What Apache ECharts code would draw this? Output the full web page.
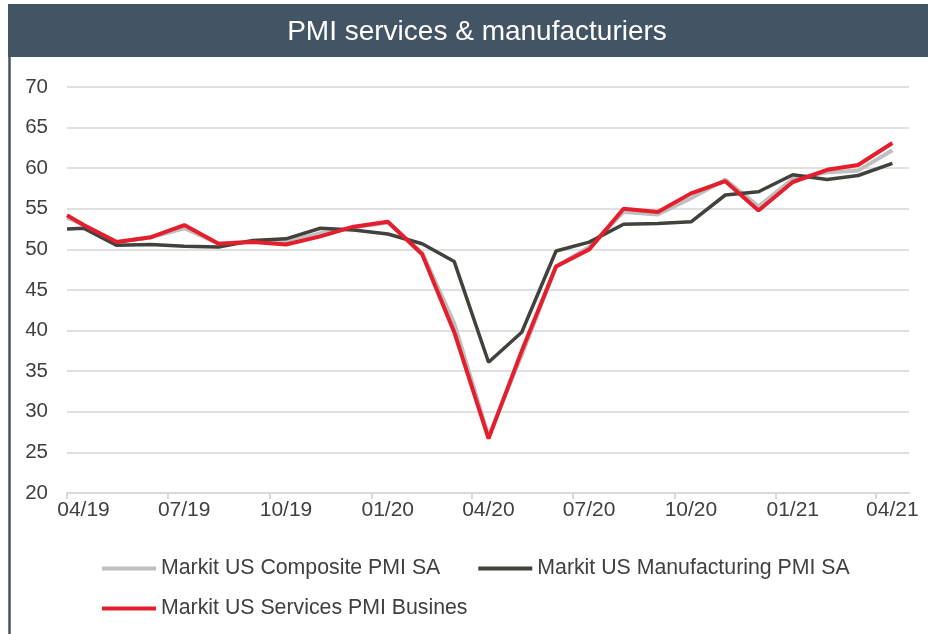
<!DOCTYPE html>
<html>
<head>
<meta charset="utf-8">
<script src="https://cdn.jsdelivr.net/npm/echarts@6/dist/echarts.min.js"></script>
<style>
html,body{margin:0;padding:0;background:#fff;}
#chart{width:928px;height:634px;}
</style>
</head>
<body>
<div id="chart"></div>
<script>
const titleText = 'PMI services & manufacturiers';
const dates = ['2019-04-01','2019-04-16','2019-05-16','2019-06-16','2019-07-16','2019-08-16','2019-09-16','2019-10-16','2019-11-16','2019-12-16',
  '2020-01-16','2020-02-16','2020-03-16','2020-04-16','2020-05-16','2020-06-16','2020-07-16','2020-08-16','2020-09-16','2020-10-16',
  '2020-11-16','2020-12-16','2021-01-16','2021-02-16','2021-03-16','2021-04-16'];
const compositeName = 'Markit US Composite PMI SA';
const manufacturingName = 'Markit US Manufacturing PMI SA';
const servicesName = 'Markit US Services PMI Busines';
const composite = [53.9,53.0,50.9,51.5,52.6,50.7,51.0,50.9,52.0,52.7,53.3,49.6,40.9,27.0,37.0,47.9,50.3,54.6,54.3,56.3,58.6,55.3,58.7,59.5,59.7,62.2];
const manufacturing = [52.5,52.6,50.5,50.6,50.4,50.3,51.1,51.3,52.6,52.4,51.9,50.7,48.5,36.1,39.8,49.8,50.9,53.1,53.2,53.4,56.7,57.1,59.2,58.6,59.1,60.6];
const services = [54.2,53.0,50.9,51.5,53.0,50.7,50.9,50.6,51.6,52.8,53.4,49.4,39.8,26.7,37.5,47.9,50.0,55.0,54.6,56.9,58.4,54.8,58.3,59.8,60.4,63.1];
const xMin = '2019-04-01';
const xMax = '2021-05-01';
const yMin = 20, yMax = 70, yStep = 5;

const FONT = "Arial, 'Liberation Sans', sans-serif";
const TXT = '#404040';
const DAY = 24 * 3600 * 1000;
function pair(vals){ return vals.map((v,i)=>[dates[i], v]); }
function fmt(val){
  const d = new Date(val);
  const m = String(d.getMonth()+1).padStart(2,'0');
  const y = String(d.getFullYear()).slice(2);
  return m + '/' + y;
}

const chart = echarts.init(document.getElementById('chart'), null, {renderer:'canvas'});
chart.setOption({
  backgroundColor:'#ffffff',
  animation:false,
  textStyle:{fontFamily:FONT},
  graphic:[
    {type:'rect', shape:{x:8, y:4, width:922, height:53}, style:{fill:'#435565'}, z:10},
    {type:'line', shape:{x1:9.5, y1:4, x2:9.5, y2:640}, style:{stroke:'#435565', lineWidth:2.5}, z:10},
    {type:'text', x:477, y:32, style:{text:titleText, fill:'#ffffff', font:'28px ' + FONT, textAlign:'center', textVerticalAlign:'middle'}, z:11}
  ],
  grid:{left:67, right:19, top:87, bottom:141, containLabel:false},
  legend:[
    {data:[compositeName, manufacturingName], left:97, top:553, itemWidth:54, itemHeight:4, itemGap:38, icon:'rect',
     textStyle:{fontSize:21.3, color:TXT, fontFamily:FONT}, selectedMode:false},
    {data:[servicesName], left:97, top:593, itemWidth:54, itemHeight:4, icon:'rect',
     textStyle:{fontSize:21.3, color:TXT, fontFamily:FONT}, selectedMode:false}
  ],
  xAxis:{
    type:'time', min:xMin, max:xMax,
    minInterval: 89*DAY, maxInterval: 93*DAY,
    axisLine:{show:true, lineStyle:{color:'#d9d9d9', width:2}},
    axisTick:{show:true, length:6, lineStyle:{color:'#d9d9d9', width:2}},
    splitLine:{show:false},
    axisLabel:{formatter:fmt, fontSize:21, color:TXT, fontFamily:FONT, margin:7, padding:[0,0,0,33], showMaxLabel:false, hideOverlap:false}
  },
  yAxis:{
    type:'value', min:yMin, max:yMax, interval:yStep,
    axisLine:{show:false}, axisTick:{show:false},
    splitLine:{show:true, lineStyle:{color:'#e0e0e0', width:2}},
    axisLabel:{fontSize:20.5, color:TXT, fontFamily:FONT, margin:19}
  },
  series:[
    {name:compositeName, type:'line', data:pair(composite), showSymbol:false, symbol:'none',
     lineStyle:{color:'#bfbfbf', width:4}, itemStyle:{color:'#bfbfbf'}, z:2},
    {name:manufacturingName, type:'line', data:pair(manufacturing), showSymbol:false, symbol:'none',
     lineStyle:{color:'#41423b', width:3.5}, itemStyle:{color:'#41423b'}, z:3},
    {name:servicesName, type:'line', data:pair(services), showSymbol:false, symbol:'none',
     lineStyle:{color:'#e41e2d', width:4}, itemStyle:{color:'#e41e2d'}, z:4}
  ]
});
</script>
</body>
</html>
